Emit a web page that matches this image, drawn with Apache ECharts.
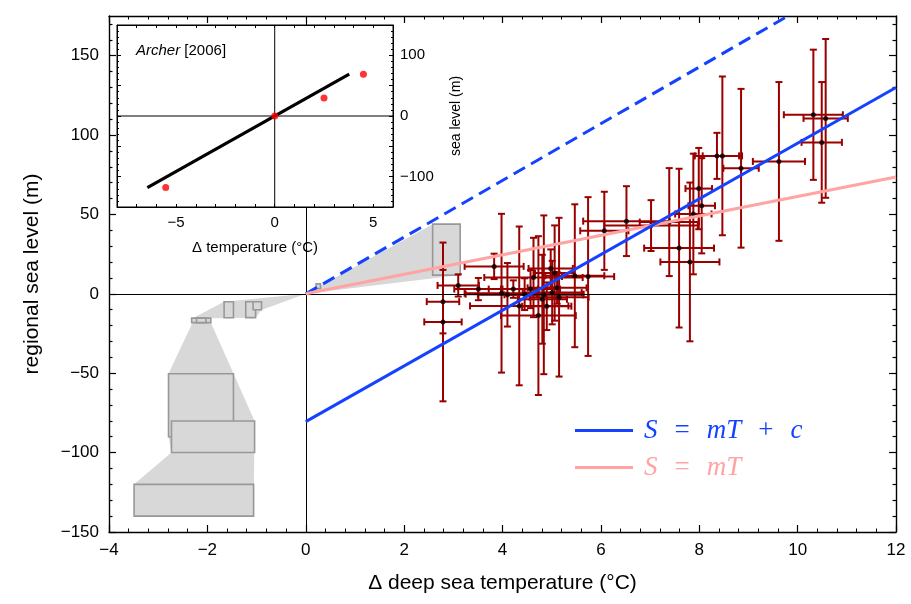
<!DOCTYPE html>
<html><head><meta charset="utf-8">
<script src="https://cdn.jsdelivr.net/npm/echarts@6/dist/echarts.min.js"></script>
<style>html,body{margin:0;padding:0;background:#fff}#c{width:911px;height:604px}</style>
</head><body><div id="c"></div><script>
// ---------- data ----------
const pointT    = [2.79, 2.79, 3.10, 3.51, 3.83, 3.98, 4.10, 4.22, 4.34, 4.45, 4.57, 4.63, 4.73, 4.81, 4.84, 4.90, 4.98, 5.01, 5.06, 5.11, 5.15, 5.47, 5.74, 6.07, 6.52, 7.02, 7.39, 7.59, 7.81, 7.88, 7.99, 8.05, 8.36, 8.47, 8.85, 9.62, 10.32, 10.57, 10.49];
const pointS    = [-4.9, -17.7, 5.3, 3.0, 17.3, 0.4, -0.6, 3.0, -7.6, -0.2, 3.0, 10.3, -13.7, -3.4, -0.6, -7.8, 16.0, 0.8, 13.1, 3.8, -2.1, 11.4, 10.9, 39.7, 45.8, 43.0, 45.2, 28.8, 20.1, 50.3, 66.3, 55.5, 86.9, 86.9, 79.1, 83.4, 112.8, 110.5, 95.4];
const pointTErr = [0.33, 0.38, 0.42, 0.49, 0.6, 0.75, 0.6, 0.5, 1.0, 1.2, 0.6, 1.0, 0.76, 0.5, 0.8, 0.5, 0.45, 0.6, 0.4, 0.6, 0.6, 0.6, 0.53, 0.49, 0.88, 0.95, 0.6, 0.71, 0.6, 0.37, 0.27, 0.27, 0.45, 0.4, 0.36, 0.53, 0.6, 0.45, 0.41];
const pointSErr = [20, 50, 7, 7, 8, 50, 20, 5.5, 50, 10, 12, 25, 50, 28, 50, 15, 12, 20, 30, 10, 50, 45, 50, 24.6, 22, 16, 34, 50, 50, 38, 25.6, 30, 14.5, 50, 50, 50, 41, 50, 38];

// proxy boxes: [Tmin, Tmax, Smin, Smax]
const proxyBoxes = [
  [-2.32, -1.93, -18.1, -15.3],
  [-2.22, -2.03, -18.1, -15.3],
  [-1.66, -1.47, -15.1, -5.0],
  [-1.22, -1.02, -15.0, -5.0],
  [-1.07, -0.90, -10.0, -5.0],
  [-2.79, -1.47, -90.0, -50.3],
  [-2.73, -1.04, -99.9, -80.1],
  [-3.49, -1.06, -140.0, -120.0],
  [0.21, 0.30, 3.4, 6.3],
  [2.58, 3.14, 11.8, 43.9]
];
const shadeLeft = [[0,0],[-1.66,-5.0],[-2.30,-15.3],[-2.30,-18.0],[-2.79,-50.3],[-2.79,-90.0],[-2.73,-99.9],[-3.49,-120.0],[-3.49,-140.0],[-1.06,-140.0],[-1.04,-80.1],[-1.93,-18.0],[-1.93,-15.3],[-1.02,-15.1],[-0.90,-10.1]];
const shadeRight = [[0,0],[2.58,43.9],[3.14,43.9],[3.14,11.8]];

const fitWithOffset = [[0, -80.5], [12, 130]];   // S = mT + c
const fitDashed     = [[0, 0], [9.8, 175]];
const fitThroughZero = [[0, 0], [12, 73.6]];     // S = mT

const archerLine = [[-6.46, -118], [3.78, 69]];
const archerPts  = [[-5.53, -118], [0, 0], [2.5, 29.5], [4.5, 69]];
const insetZeroH = [[-8, 0], [6, 0]];
const insetZeroV = [[0, -150], [0, 150]];

const yMajorTicks = [-150, -100, -50, 0, 50, 100, 150];
const yMinorTicks = [-140,-130,-120,-110,-90,-80,-70,-60,-40,-30,-20,-10,10,20,30,40,60,70,80,90,110,120,130,140,160,170];
const insetXLabels = [-5, 0, 5];
const insetYLabels = [-100, 0, 100];

// ---------- styles ----------
const FONT = '"Liberation Sans", Arial, Helvetica, sans-serif';
const SERIF = '"Liberation Serif", "DejaVu Serif", serif';
const BLUE = '#1442ff', PINK = '#ffa3a3', RED = '#990000', GREYF = '#d8d8d8', GREYS = '#989898';
const minus = v => String(v).replace('-', '\u2212');
const black = {color: '#000', width: 1.4};

function mainX(pos, labels) {
  return {
    gridIndex: 0, type: 'value', position: pos, min: -4, max: 12, interval: 2,
    axisLine: {show: true, onZero: false, lineStyle: black},
    axisTick: {show: true, inside: true, length: 7, lineStyle: {color: '#000', width: 1.2}},
    minorTick: {show: true, splitNumber: 5, length: 3.5, lineStyle: {color: '#000', width: 1}},
    splitLine: {show: false}, minorSplitLine: {show: false},
    axisLabel: {show: labels, margin: 10, fontSize: 17, fontFamily: FONT, color: '#000', formatter: minus},
    name: labels ? '\u0394 deep sea temperature (\u00B0C)' : '', nameLocation: 'middle', nameGap: 41,
    nameTextStyle: {fontSize: 21, fontFamily: FONT, color: '#000'}
  };
}
function mainY(pos, ticks, len, labels, line) {
  return {
    gridIndex: 0, type: 'value', position: pos, min: -150, max: 175,
    axisLine: {show: line, onZero: false, lineStyle: black},
    axisTick: {show: true, inside: true, length: len, customValues: ticks, lineStyle: {color: '#000', width: 1.2}},
    axisLabel: {show: labels, customValues: ticks, margin: 10, fontSize: 17, fontFamily: FONT, color: '#000', formatter: minus},
    splitLine: {show: false},
    name: labels ? 'regional sea level (m)' : '', nameLocation: 'middle', nameGap: 66, nameRotate: 90,
    nameTextStyle: {fontSize: 21, fontFamily: FONT, color: '#000'}
  };
}
function insetX(pos, labels) {
  return {
    gridIndex: 1, zlevel: 1, type: 'value', position: pos, min: -8, max: 6, interval: 1,
    axisLine: {show: true, onZero: false, lineStyle: {color: '#000', width: 1}},
    axisTick: {show: true, inside: true, length: 3, lineStyle: {color: '#000', width: 1}},
    splitLine: {show: false},
    axisLabel: {show: labels, customValues: insetXLabels, margin: 8, fontSize: 15, fontFamily: FONT, color: '#000', formatter: minus},
    name: labels ? '\u0394 temperature (\u00B0C)' : '', nameLocation: 'middle', nameGap: 33,
    nameTextStyle: {fontSize: 15, fontFamily: FONT, color: '#000'}
  };
}
function insetY(pos, labels) {
  return {
    gridIndex: 1, zlevel: 1, type: 'value', position: pos, min: -150, max: 150, interval: 50,
    axisLine: {show: true, onZero: false, lineStyle: {color: '#000', width: 1}},
    axisTick: {show: true, inside: true, length: 4, lineStyle: {color: '#000', width: 1}},
    minorTick: {show: true, splitNumber: 5, length: 2, lineStyle: {color: '#000', width: 1}},
    splitLine: {show: false},
    axisLabel: {show: labels, customValues: insetYLabels, margin: 7, fontSize: 15, fontFamily: FONT, color: '#000', formatter: minus},
    name: labels ? 'sea level (m)' : '', nameLocation: 'middle', nameGap: 56, nameRotate: 90,
    nameTextStyle: {fontSize: 14, fontFamily: FONT, color: '#000'}
  };
}

const chart = echarts.init(document.getElementById('c'), null, {renderer: 'canvas'});
const option = {
  animation: false,
  backgroundColor: '#fff',
  title: {
    text: '{i|Archer} [2006]', left: 136, top: 43, padding: 0, zlevel: 1,
    textStyle: {fontSize: 15, fontWeight: 'normal', fontFamily: FONT, color: '#000',
      rich: {i: {fontStyle: 'italic', fontSize: 15, fontFamily: FONT, color: '#000'}}}
  },
  grid: [
    {left: 109, top: 16, width: 787, height: 516, show: false},
    {left: 117, top: 25, width: 276, height: 182, show: true, backgroundColor: '#fff', borderColor: '#000', borderWidth: 1, zlevel: 1}
  ],
  legend: {
    data: [{name: 'S = mT + c', icon: 'rect'}, {name: 'S = mT', icon: 'rect'}],
    orient: 'vertical', left: 570, top: 412, itemWidth: 58, itemHeight: 3, itemGap: 10,
    selectedMode: false,
    formatter: n => n === 'S = mT + c'
      ? '{bf|S}{bo|=}{b|mT}{bo|+}{b|c}'
      : '{pf|S}{po|=}{p|mT}',
    textStyle: {
      rich: {
        bf: {color: BLUE, fontFamily: SERIF, fontStyle: 'italic', fontSize: 27, padding: [0, 0, 0, 6]},
        b:  {color: BLUE, fontFamily: SERIF, fontStyle: 'italic', fontSize: 27},
        bo: {color: BLUE, fontFamily: SERIF, fontSize: 27, padding: [0, 17]},
        pf: {color: PINK, fontFamily: SERIF, fontStyle: 'italic', fontSize: 27, padding: [0, 0, 0, 6]},
        p:  {color: PINK, fontFamily: SERIF, fontStyle: 'italic', fontSize: 27},
        po: {color: PINK, fontFamily: SERIF, fontSize: 27, padding: [0, 17]}
      }
    }
  },
  xAxis: [mainX('bottom', true), mainX('top', false), insetX('bottom', true), insetX('top', false)],
  yAxis: [
    mainY('left', yMajorTicks, 7, true, true),
    mainY('left', yMinorTicks, 3.5, false, false),
    mainY('right', yMajorTicks, 7, false, true),
    mainY('right', yMinorTicks, 3.5, false, false),
    insetY('right', true),
    insetY('left', false)
  ],
  series: [
    {
      type: 'custom', name: 'shade', xAxisIndex: 0, yAxisIndex: 0, z: 1, silent: true,
      data: [shadeLeft, shadeRight].map((p, i) => [p[0][0], p[0][1], i]),
      renderItem: (params, api) => {
        const poly = [shadeLeft, shadeRight][api.value(2)];
        return {type: 'polygon', shape: {points: poly.map(p => api.coord(p))}, style: {fill: GREYF}};
      },
      markLine: {
        symbol: 'none', silent: true, label: {show: false}, animation: false,
        lineStyle: {color: '#000', width: 1, type: 'solid'},
        data: [{xAxis: 0}, {yAxis: 0}]
      }
    },
    {
      type: 'custom', name: 'boxes', xAxisIndex: 0, yAxisIndex: 0, z: 2, silent: true,
      encode: {x: [0, 1], y: [2, 3]},
      data: proxyBoxes,
      renderItem: (params, api) => {
        const p1 = api.coord([api.value(0), api.value(3)]);
        const p2 = api.coord([api.value(1), api.value(2)]);
        return {type: 'rect', shape: {x: p1[0], y: p1[1], width: p2[0] - p1[0], height: p2[1] - p1[1]},
          style: {fill: GREYF, stroke: GREYS, lineWidth: 1.6}};
      }
    },
    {
      type: 'custom', name: 'errors', xAxisIndex: 0, yAxisIndex: 0, z: 3, silent: true,
      data: pointT.map((t, i) => [t, pointS[i], pointTErr[i], pointSErr[i]]),
      renderItem: (params, api) => {
        const x = api.value(0), y = api.value(1), xe = api.value(2), ye = api.value(3);
        const l = api.coord([x - xe, y]), r = api.coord([x + xe, y]);
        const t = api.coord([x, y + ye]), b = api.coord([x, y - ye]);
        const c = 3.5, st = {stroke: RED, lineWidth: 2};
        const seg = (x1, y1, x2, y2) => ({type: 'line', shape: {x1, y1, x2, y2}, style: st});
        return {type: 'group', children: [
          seg(l[0], l[1], r[0], r[1]),
          seg(l[0], l[1] - c, l[0], l[1] + c),
          seg(r[0], r[1] - c, r[0], r[1] + c),
          seg(t[0], t[1], b[0], b[1]),
          seg(t[0] - c, t[1], t[0] + c, t[1]),
          seg(b[0] - c, b[1], b[0] + c, b[1])
        ]};
      }
    },
    {
      type: 'scatter', name: 'points', xAxisIndex: 0, yAxisIndex: 0, z: 4, silent: true,
      symbolSize: 5, itemStyle: {color: '#000'},
      data: pointT.map((t, i) => [t, pointS[i]])
    },
    {
      type: 'line', name: 'dashed', xAxisIndex: 0, yAxisIndex: 0, z: 5, silent: true,
      symbol: 'none', data: fitDashed,
      lineStyle: {color: BLUE, width: 3, type: [13, 7]}
    },
    {
      type: 'line', name: 'S = mT', xAxisIndex: 0, yAxisIndex: 0, z: 5, silent: true,
      symbol: 'none', data: fitThroughZero, color: PINK,
      itemStyle: {color: PINK}, lineStyle: {color: PINK, width: 3}
    },
    {
      type: 'line', name: 'S = mT + c', xAxisIndex: 0, yAxisIndex: 0, z: 6, silent: true,
      symbol: 'none', data: fitWithOffset, color: BLUE,
      itemStyle: {color: BLUE}, lineStyle: {color: BLUE, width: 3}
    },
    {
      type: 'line', name: 'insetZeroH', xAxisIndex: 2, yAxisIndex: 4, zlevel: 1, z: 2, silent: true,
      symbol: 'none', data: insetZeroH, lineStyle: {color: '#000', width: 1}
    },
    {
      type: 'line', name: 'insetZeroV', xAxisIndex: 2, yAxisIndex: 4, zlevel: 1, z: 2, silent: true,
      symbol: 'none', data: insetZeroV, lineStyle: {color: '#000', width: 1}
    },
    {
      type: 'line', name: 'archerLine', xAxisIndex: 2, yAxisIndex: 4, zlevel: 1, z: 3, silent: true,
      symbol: 'none', data: archerLine, lineStyle: {color: '#000', width: 3.2}
    },
    {
      type: 'scatter', name: 'archerPts', xAxisIndex: 2, yAxisIndex: 4, zlevel: 1, z: 4, silent: true,
      symbolSize: 7, itemStyle: {color: '#ff0000'}, data: archerPts
    }
  ]
};
chart.setOption(option);
</script></body></html>
